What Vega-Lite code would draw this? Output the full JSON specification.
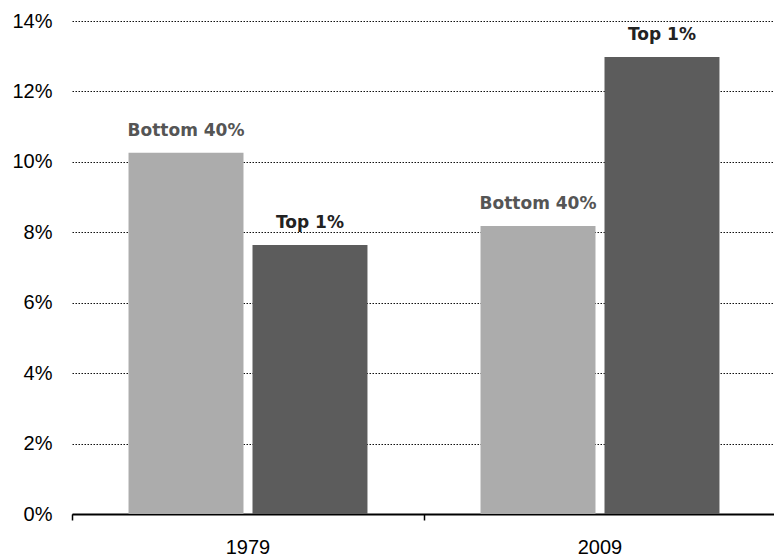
{
  "$schema": "https://vega.github.io/schema/vega-lite/v6.json",
  "autosize": {"type": "none"},
  "padding": {"left": 72, "top": 21, "right": 4, "bottom": 44},
  "width": 698,
  "height": 493,
  "background": "white",
  "data": {
    "values": [
      {"year": "1979", "group": "Bottom 40%", "value": 0.1026},
      {"year": "1979", "group": "Top 1%", "value": 0.0764},
      {"year": "2009", "group": "Bottom 40%", "value": 0.0818},
      {"year": "2009", "group": "Top 1%", "value": 0.1298}
    ]
  },
  "encoding": {
    "x": {
      "field": "year",
      "type": "nominal",
      "scale": {"range": [0, 704], "paddingInner": 0, "paddingOuter": 0},
      "axis": {
        "title": null,
        "labelAngle": 0,
        "labelFont": "Liberation Sans",
        "labelFontSize": 20,
        "labelColor": "#000",
        "labelPadding": 17,
        "domainColor": "#000",
        "domainWidth": 2,
        "ticks": true,
        "bandPosition": 0,
        "tickColor": "#000",
        "tickSize": 6,
        "tickWidth": 1.5,
        "grid": false
      }
    },
    "xOffset": {
      "field": "group",
      "type": "nominal",
      "scale": {"paddingInner": 0.0726, "paddingOuter": 0.456}
    },
    "y": {
      "field": "value",
      "type": "quantitative",
      "scale": {"domain": [0, 0.14], "nice": false},
      "axis": {
        "title": null,
        "format": ".0%",
        "values": [0, 0.02, 0.04, 0.06, 0.08, 0.1, 0.12, 0.14],
        "domain": false,
        "ticks": false,
        "labelFont": "Liberation Sans",
        "labelFontSize": 20,
        "labelColor": "#000",
        "labelPadding": 20,
        "grid": true,
        "gridColor": "#111",
        "gridDash": [1.5, 1.5],
        "gridWidth": 1.2
      }
    }
  },
  "layer": [
    {
      "mark": {"type": "bar"},
      "encoding": {
        "color": {
          "field": "group",
          "type": "nominal",
          "scale": {"domain": ["Bottom 40%", "Top 1%"], "range": ["#acacac", "#5c5c5c"]},
          "legend": null
        }
      }
    },
    {
      "mark": {
        "type": "text",
        "font": "DejaVu Sans",
        "fontWeight": "bold",
        "fontSize": 17,
        "baseline": "alphabetic",
        "dy": -17
      },
      "encoding": {
        "text": {"field": "group"},
        "color": {
          "condition": {"test": "datum.group === 'Top 1%'", "value": "#222"},
          "value": "#555"
        }
      }
    }
  ],
  "config": {"view": {"stroke": null}}
}
